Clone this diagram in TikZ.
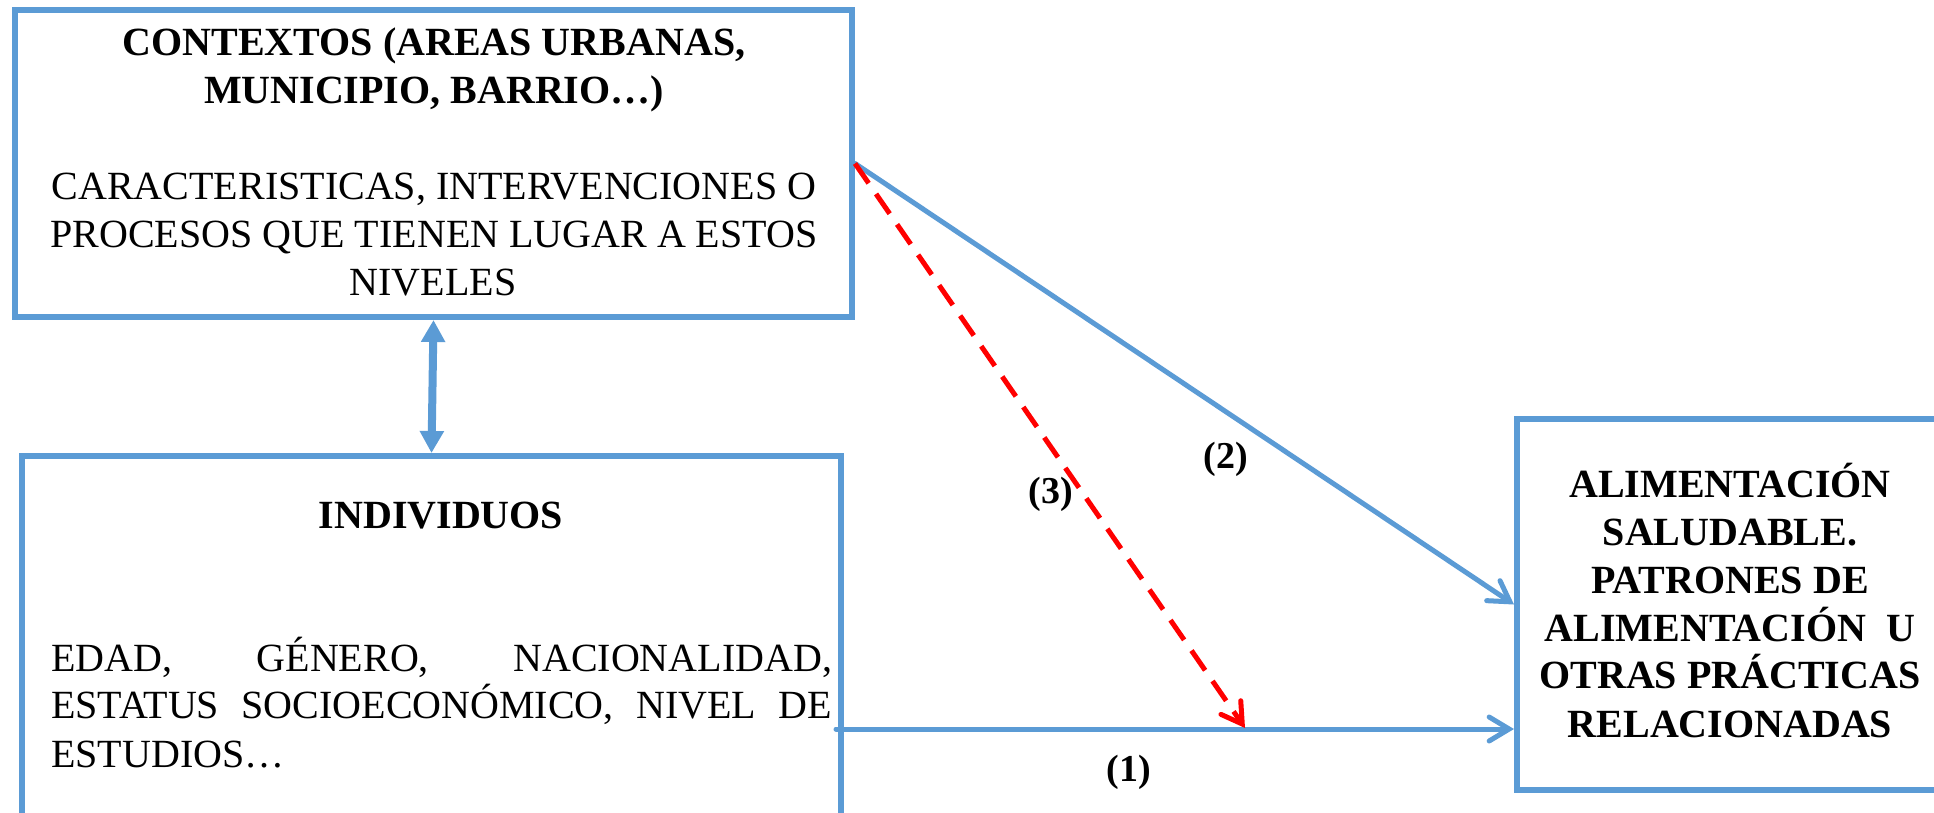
\documentclass[tikz,border=0pt]{standalone}
\usepackage{fontspec}
\setmainfont{Liberation Serif}
\usetikzlibrary{arrows.meta}
\definecolor{boxblue}{RGB}{91,155,213}
\definecolor{arrred}{RGB}{255,0,0}
\tikzset{
  boxnode/.style={draw=boxblue, line width=6pt, inner sep=0pt, rectangle},
  txt/.style={font=\fontsize{40}{48}\selectfont, inner sep=0pt, anchor=base},
  btxt/.style={font=\fontsize{40}{48}\selectfont\bfseries, inner sep=0pt, anchor=base},
  lbl/.style={font=\fontsize{38}{46}\selectfont\bfseries, inner sep=0pt, anchor=base},
  bluearrow/.style={draw=boxblue, line width=5pt, line cap=round,
    -{Straight Barb[length=20pt,width=24pt,line cap=round]}},
  redarrow/.style={draw=arrred, line width=5pt, dash pattern=on 24pt off 13pt,
    -{Straight Barb[length=20pt,width=24pt,line cap=round]}},
  dblarrow/.style={draw=boxblue, line width=8pt,
    {Triangle[length=22pt,width=23pt]}-{Triangle[length=22pt,width=23pt]}}
}
\begin{document}
\begin{tikzpicture}[x=1pt,y=-1pt]
\useasboundingbox (0,0) rectangle (1934,812);
\clip (0,0) rectangle (1934,812);
\fill[white] (0,0) rectangle (1934,812);

% boxes
\node[boxnode, minimum width=837pt, minimum height=307pt] (ctx) at (433.5,163.5) {};
\node[boxnode, minimum width=819pt, minimum height=444pt] (ind) at (431.5,678) {};
\node[boxnode, minimum width=433pt, minimum height=371pt] (alim) at (1733.5,604.5) {};

% texts of the top box
\node[btxt] (c1) at (434,55) {CONTEXTOS (AREAS URBANAS,};
\node[btxt] (c2) at (434,103) {MUNICIPIO, BARRIO…)};
\node[txt] (c3) at (434,199) {CARACTERISTICAS, INTERVENCIONES O};
\node[txt] (c4) at (434,247) {PROCESOS QUE TIENEN LUGAR A ESTOS};
\node[txt] (c5) at (433,295) {NIVELES};

% texts of the left box
\node[btxt] (i1) at (441,528) {INDIVIDUOS};
\node[txt, anchor=base west] (i2) at (51,671) {\makebox[781pt][s]{EDAD, GÉNERO, NACIONALIDAD,}};
\node[txt, anchor=base west] (i3) at (51,718) {\makebox[781pt][s]{ESTATUS SOCIOECONÓMICO, NIVEL DE}};
\node[txt, anchor=base west] (i4) at (51,767) {ESTUDIOS…};

% texts of the right box
\node[btxt] (a1) at (1730,497) {ALIMENTACIÓN};
\node[btxt] (a2) at (1730,545) {SALUDABLE.};
\node[btxt] (a3) at (1730,593) {PATRONES DE};
\node[btxt] (a4) at (1730,641) {ALIMENTACIÓN\ \ U};
\node[btxt] (a5) at (1730,688) {OTRAS PRÁCTICAS};
\node[btxt] (a6) at (1730,737) {RELACIONADAS};

% connectors
\coordinate (l1) at (836,729);
\coordinate (m3) at (1245,728);
\draw[dblarrow] (ctx.south) -- (ind.north);
\draw[bluearrow] (l1) -- (alim.west |- l1);
\draw[bluearrow] (ctx.east) -- (alim.west);
\draw[redarrow] (ctx.east) -- (m3);

% labels
\node[lbl] (n2) at (1226,468) {(2)};
\node[lbl] (n3) at (1051,503) {(3)};
\node[lbl] (n1) at (1129,781) {(1)};
\end{tikzpicture}
\end{document}
